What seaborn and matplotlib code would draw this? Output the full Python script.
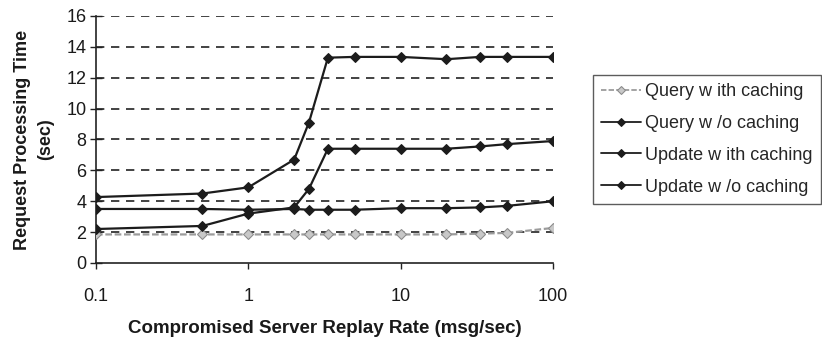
import numpy as np
import pandas as pd
import matplotlib
matplotlib.use("Agg")
import matplotlib.pyplot as plt
import seaborn as sns
from matplotlib.ticker import FixedLocator, FixedFormatter, NullLocator

rates = [0.1, 0.5, 1, 2, 2.5, 3.33, 5, 10, 20, 33.3, 50, 100]
query_with = [1.85, 1.85, 1.85, 1.85, 1.85, 1.85, 1.85, 1.85, 1.85, 1.9, 1.95, 2.27]
query_wo = [4.27, 4.5, 4.9, 6.7, 9.1, 13.3, 13.35, 13.35, 13.2, 13.35, 13.35, 13.35]
update_with = [3.5, 3.5, 3.45, 3.5, 3.45, 3.45, 3.45, 3.55, 3.55, 3.6, 3.7, 4.0]
update_wo = [2.2, 2.4, 3.2, 3.6, 4.8, 7.4, 7.4, 7.4, 7.4, 7.55, 7.7, 7.9]
labels = ["Query w ith caching", "Query w /o caching",
          "Update w ith caching", "Update w /o caching"]
yticks = [0, 2, 4, 6, 8, 10, 12, 14, 16]
xticks = [0.1, 1, 10, 100]
xticklabels = ["0.1", "1", "10", "100"]

rows = []
for lab, vals in zip(labels, [query_with, query_wo, update_with, update_wo]):
    for r, v in zip(rates, vals):
        rows.append({"rate": r, "time": v, "series": lab})
df = pd.DataFrame(rows)

sns.set_theme(style="white")
plt.rcParams['font.family'] = ['Liberation Sans', 'DejaVu Sans']

fig = plt.figure(figsize=(8.22, 3.46), dpi=100)
ax = fig.add_axes([0.1168, 0.2399, 0.6727 - 0.1168, 0.9538 - 0.2399])

palette = {labels[0]: "#9c9c9c", labels[1]: "#1c1c1c",
           labels[2]: "#1c1c1c", labels[3]: "#1c1c1c"}
markers = {l: "D" for l in labels}
dashes = {labels[0]: (3, 1.2), labels[1]: "", labels[2]: "", labels[3]: ""}

# dashed grid
for y in yticks[1:]:
    ax.axhline(y, color="#222222", lw=1.2, ls=(0, (5, 4)), zorder=1)

sns.lineplot(data=df, x="rate", y="time", hue="series", style="series",
             palette=palette, markers=markers, dashes=dashes, markersize=5.5,
             linewidth=1.6, ax=ax, legend=True, zorder=3)
for line in ax.get_lines():
    c = line.get_color()
    line.set_markeredgecolor(c)
    line.set_markerfacecolor(c)
gray_lines = [l for l in ax.get_lines() if l.get_color() == "#9c9c9c"]
for l in gray_lines:
    l.set_markerfacecolor("#c8c8c8")
    l.set_markeredgecolor("#8a8a8a")

ax.set_xscale("log")
ax.set_xlim(0.1, 100)
ax.set_ylim(0, 16)
ax.xaxis.set_major_locator(FixedLocator(xticks))
ax.xaxis.set_major_formatter(FixedFormatter(xticklabels))
ax.xaxis.set_minor_locator(NullLocator())
ax.set_yticks(yticks)

for s in ["top", "right"]:
    ax.spines[s].set_visible(False)
for s in ["left", "bottom"]:
    ax.spines[s].set_color("#222222")
    ax.spines[s].set_linewidth(1.2)

ax.tick_params(axis="y", direction="inout", length=8, width=1, colors="#222222",
               labelsize=13, pad=3, labelcolor="#1a1a1a", left=True)
ax.tick_params(axis="x", direction="out", length=4, width=1, colors="#222222",
               labelsize=13, pad=14, labelcolor="#1a1a1a", bottom=True)

ax.set_xlabel("Compromised Server Replay Rate (msg/sec)", fontsize=13.5,
              fontweight="bold", labelpad=11, color="#1a1a1a")
ax.set_ylabel("Request Processing Time\n(sec)", fontsize=13,
              fontweight="bold", labelpad=9, color="#1a1a1a", linespacing=1.45)

handles, hlabels = ax.get_legend_handles_labels()
ax.get_legend().remove()
leg = fig.legend(handles, hlabels, loc="upper left",
                 bbox_to_anchor=(593 / 822, 1 - 75 / 346), frameon=True,
                 fancybox=False, edgecolor="#333333", fontsize=13,
                 handlelength=2.2, labelspacing=0.82, borderpad=0.45,
                 handletextpad=0.25, borderaxespad=0)
leg.get_frame().set_linewidth(1.0)
for h in leg.get_lines():
    h.set_linewidth(1.3)
    h.set_markersize(4)

fig.savefig("out.png", dpi=100)
